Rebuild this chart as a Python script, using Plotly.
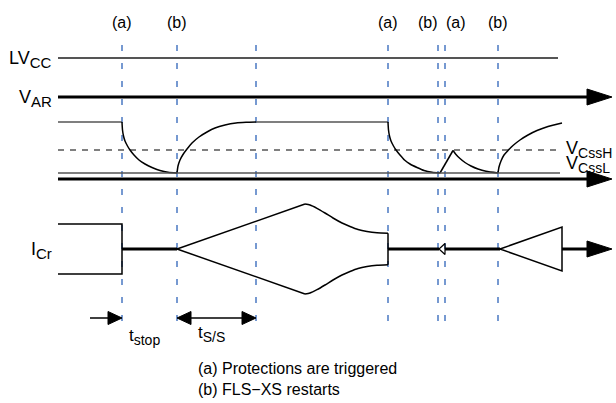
import plotly.graph_objects as go

# ---------------- data (diagram units: time along x, signal level along y) ----------------
event_t = [122, 177, 256, 388, 438, 445, 498]          # vertical dashed markers
event_labels = ["(a)", "(b)", "", "(a)", "(b)", "(a)", "(b)"]
label_t = [122, 177, None, 388, 428, 456, 498]

t_start, t_end_lines, t_end_arrow = 58, 558, 612

lvcc_level = 58
var_level = 97
css_high_flat = 122
vcss_h = 150
vcss_l = 173
css_axis = 179
icr_axis = 249

# Css waveform pieces
css_flat1_t = [58, 122]
css_dec1_t = [122, 122.5, 123.5, 125, 127.5, 130, 134, 139, 145, 152, 160, 168, 177]
css_dec1_v = [122, 130, 136, 141, 146, 150, 155, 160, 164, 167.5, 170.5, 172.3, 173]
css_rise1_t = [177, 178, 180, 183, 187, 192, 199, 207, 215, 225, 236, 246, 256]
css_rise1_v = [173, 166, 160, 154.5, 149, 143, 137, 132, 128, 125, 123, 122.3, 122]
css_flat2_t = [256, 388]
css_dec2_t = [388, 388.5, 389.5, 391, 393.5, 396, 400, 404.5, 410, 417, 424, 432, 440]
css_dec2_v = [122, 130, 136, 141, 146, 150, 155, 160, 164, 167.5, 170.5, 172.3, 173]
css_spike_t = [440, 453, 456, 460, 465, 471, 478, 486, 498]
css_spike_v = [173, 150.5, 154.5, 158.5, 162.5, 166, 169, 171.3, 173]
css_rise2_t = [498, 499, 501, 504, 508, 513, 520, 528, 537, 548, 562]
css_rise2_v = [173, 167, 161, 155, 150.5, 145.5, 140, 135, 130.5, 126.5, 123]

# I_Cr envelope (upper half; lower half mirrors about icr_axis)
icr_rect_t = [58, 122]
icr_rect_half = 25
icr_env_t = [177, 305, 310, 317, 325, 333, 342, 350, 358, 367, 377, 388]
icr_env_v = [249, 204, 205, 208.3, 213, 218, 223, 226.5, 229.5, 231.5, 232.8, 233.3]
icr_small_tri_t = [439, 445]
icr_small_half = 5.5
icr_big_tri_t = [500, 562]
icr_big_half = 22

# timing arrows
tstop_arrow_t = [90, 122]
tss_arrow_t = [177, 256]
timing_level = 318

# ---------------- styling ----------------
FONT = "Liberation Sans, Arial, sans-serif"
BLACK = "#000000"
GRAY = "#555555"
BLUE = "#4a78c2"

fig = go.Figure()


def line(xs, ys, color=BLACK, width=1.5, dash=None, shape="linear"):
    ln = dict(color=color, width=width, dash=dash, shape=shape)
    if shape == "spline":
        ln["smoothing"] = 0.6
    fig.add_trace(go.Scatter(x=xs, y=ys, mode="lines", hoverinfo="skip", showlegend=False, line=ln))


def head(tip_x, tip_y, direction, length, half):
    bx = tip_x - direction * length
    fig.add_trace(go.Scatter(x=[tip_x, bx, bx, tip_x], y=[tip_y, tip_y - half, tip_y + half, tip_y],
                             mode="lines", fill="toself", fillcolor=BLACK, hoverinfo="skip",
                             showlegend=False, line=dict(color=BLACK, width=1)))


# dashed event markers
for t in event_t:
    line([t, t], [45, 322], color=BLUE, width=1.5, dash="6px,12px")

# LVcc
line([t_start, t_end_lines], [lvcc_level] * 2, color=GRAY, width=2)
# V_AR
line([t_start, t_end_arrow - 22], [var_level] * 2, width=3)
head(t_end_arrow, var_level, 1, 25, 8)

# Css
line(css_flat1_t, [css_high_flat] * 2, color=GRAY, width=1.5)
line(css_flat2_t, [css_high_flat] * 2, color=GRAY, width=1.5)
for xs, ys in [(css_dec1_t, css_dec1_v), (css_rise1_t, css_rise1_v), (css_dec2_t, css_dec2_v),
               (css_rise2_t, css_rise2_v)]:
    line(xs, ys, width=1.5, shape="spline")
line(css_spike_t[:2], css_spike_v[:2], width=1.5)
line(css_spike_t[1:], css_spike_v[1:], width=1.5, shape="spline")
line([t_start, t_end_lines], [vcss_h] * 2, width=1.2, dash="6px,6px")
line([t_start, t_end_lines + 2], [vcss_l] * 2, color=GRAY, width=1.5)
line([t_start, t_end_arrow - 22], [css_axis] * 2, width=3)
head(t_end_arrow, css_axis, 1, 25, 8)

# I_Cr
r0, r1 = icr_rect_t
line([r0, r1, r1, r0], [icr_axis - icr_rect_half, icr_axis - icr_rect_half,
                        icr_axis + icr_rect_half, icr_axis + icr_rect_half], width=1.5)
line([r1, event_t[1]], [icr_axis] * 2, width=3)
line(icr_env_t[:2], icr_env_v[:2], width=1.5)
line(icr_env_t[1:], icr_env_v[1:], width=1.5, shape="spline")
low = [2 * icr_axis - v for v in icr_env_v]
line(icr_env_t[:2], low[:2], width=1.5)
line(icr_env_t[1:], low[1:], width=1.5, shape="spline")
line([icr_env_t[-1]] * 2, [icr_env_v[-1], low[-1]], width=1.5)
line([icr_env_t[-1], icr_small_tri_t[0]], [icr_axis] * 2, width=3)
line([icr_small_tri_t[1], icr_big_tri_t[0]], [icr_axis] * 2, width=3)
s0, s1 = icr_small_tri_t
line([s0, s1, s1, s0], [icr_axis, icr_axis - icr_small_half, icr_axis + icr_small_half, icr_axis], width=1.2)
b0, b1 = icr_big_tri_t
line([b0, b1, b1, b0], [icr_axis, icr_axis - icr_big_half, icr_axis + icr_big_half, icr_axis], width=1.5)
line([b1, t_end_arrow - 22], [icr_axis] * 2, width=3)
head(t_end_arrow, icr_axis, 1, 25, 8)

# timing arrows
line([tstop_arrow_t[0], tstop_arrow_t[1] - 10], [timing_level] * 2, width=1.5)
head(tstop_arrow_t[1], timing_level, 1, 14, 6.5)
line([tss_arrow_t[0] + 10, tss_arrow_t[1] - 10], [timing_level] * 2, width=1.5)
head(tss_arrow_t[0], timing_level, -1, 14, 6.5)
head(tss_arrow_t[1], timing_level, 1, 14, 6.5)

# ---------------- text ----------------
ann = []


def text(x, y, s, size=16, xanchor="center", yanchor="middle"):
    ann.append(dict(x=x, y=y, xref="x", yref="y", text=s, showarrow=False,
                    xanchor=xanchor, yanchor=yanchor, font=dict(family=FONT, size=size, color=BLACK)))


def sub(main, low, px):
    return f"{main}<sub><span style='font-size:{px}px'>{low}</span></sub>"


for lab, t in zip(event_labels, label_t):
    if lab:
        text(t, 22, lab, size=16)

text(54, 59, sub("LV", "CC", 15), size=18, xanchor="right")
text(54, 98, sub("V", "AR", 15), size=18, xanchor="right")
text(54, 250, sub("I", "Cr", 15), size=18, xanchor="right")
text(564, 149, sub("V", "CssH", 14), size=18, xanchor="left")
text(564, 164, sub("V", "CssL", 14), size=18, xanchor="left")
text(127, 337, sub("t", "stop", 14), size=17, xanchor="left")
text(196, 334, sub("t", "S/S", 14), size=17, xanchor="left")
text(196, 368, "(a) Protections are triggered", size=16, xanchor="left")
text(196, 389, "(b) FLS\u2212XS restarts", size=16, xanchor="left")

fig.update_layout(
    width=616, height=403, margin=dict(l=0, r=0, t=0, b=0),
    paper_bgcolor="white", plot_bgcolor="white",
    xaxis=dict(range=[0, 616], visible=False, fixedrange=True),
    yaxis=dict(range=[403, 0], visible=False, fixedrange=True),
    annotations=ann, showlegend=False,
)

fig.write_html("out.html", config={"displayModeBar": False},
               post_script="document.body.style.margin='0';document.body.style.padding='0';"
                           "document.body.style.overflow='hidden';")
